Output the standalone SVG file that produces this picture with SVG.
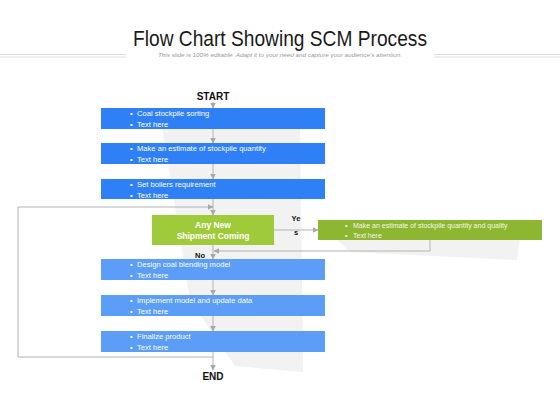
<svg xmlns="http://www.w3.org/2000/svg" width="560" height="420" viewBox="0 0 560 420">
<style>
.title{font-family:"Liberation Sans",Arial,sans-serif;font-size:22px;fill:#1a1a1a}
.sub{font-family:"Liberation Sans",Arial,sans-serif;font-size:6px;font-style:italic;fill:#9a9a9a}
.dl{stroke:#d8d8d8;stroke-width:0.8}
.bt{font-family:"Liberation Sans",Arial,sans-serif;font-size:7.6px;fill:#ffffff}
.gt{font-family:"Liberation Sans",Arial,sans-serif;font-size:7px;fill:#f4f8e8}
.dt{font-family:"Liberation Sans",Arial,sans-serif;font-size:8.5px;font-weight:bold;fill:#ffffff}
.lab{font-family:"Liberation Sans",Arial,sans-serif;font-size:10px;font-weight:bold;fill:#111}
.sl{font-family:"Liberation Sans",Arial,sans-serif;font-size:7.5px;font-weight:bold;fill:#111}
.c{fill:none;stroke:#b3b3b3;stroke-width:1}
.dark{fill:#2f80f6}
.light{fill:#5c9df8}
</style>
<defs>
<marker id="ah" viewBox="0 0 10 10" refX="9" refY="5" markerWidth="6" markerHeight="6" orient="auto" markerUnits="userSpaceOnUse">
<path d="M0,0 L10,5 L0,10 z" fill="#a8a8a8"/>
</marker>
</defs>
<rect width="560" height="420" fill="#ffffff"/>
<g id="header">
<text class="title" x="280" y="46" text-anchor="middle" textLength="294" lengthAdjust="spacingAndGlyphs">Flow Chart Showing SCM Process</text>
<text class="sub" x="280" y="57" text-anchor="middle" textLength="244" lengthAdjust="spacingAndGlyphs">This slide is 100% editable. Adapt it to your need and capture your audience's attention.</text>
<line class="dl" x1="0" y1="54.5" x2="126" y2="54.5"/>
<line class="dl" x1="0" y1="57" x2="126" y2="57"/>
<line class="dl" x1="434" y1="54.5" x2="560" y2="54.5"/>
<line class="dl" x1="434" y1="57" x2="560" y2="57"/>
</g>
<g id="shadows" fill="#f2f2f2">
<polygon points="160,114 300,114 303,372 235,366 190,300"/>
<polygon points="335,238 520,238 517,260 350,252"/>
</g>
<g id="connectors">
<line class="c" x1="213" y1="102" x2="213" y2="108" marker-end="url(#ah)"/>
<line class="c" x1="213" y1="129" x2="213" y2="143" marker-end="url(#ah)"/>
<line class="c" x1="213" y1="164" x2="213" y2="179" marker-end="url(#ah)"/>
<line class="c" x1="213" y1="199" x2="213" y2="215" marker-end="url(#ah)"/>
<polyline class="c" points="213,357 18,357 18,207 213,207" marker-end="url(#ah)"/>
<line class="c" x1="274" y1="230" x2="318" y2="230" marker-end="url(#ah)"/>
<polyline class="c" points="430,240 430,251 214,251" marker-end="url(#ah)"/>
<line class="c" x1="213" y1="245" x2="213" y2="259" marker-end="url(#ah)"/>
<line class="c" x1="213" y1="280" x2="213" y2="295" marker-end="url(#ah)"/>
<line class="c" x1="213" y1="316" x2="213" y2="331" marker-end="url(#ah)"/>
<line class="c" x1="213" y1="352" x2="213" y2="370" marker-end="url(#ah)"/>
<text class="sl" x="296" y="221" text-anchor="middle">Ye</text>
<text class="sl" x="296" y="235" text-anchor="middle">s</text>
<text class="sl" x="200" y="258" text-anchor="middle">No</text>
</g>
<g id="start"><text class="lab" x="213" y="100" text-anchor="middle">START</text></g>
<g id="n1"><rect class="dark" x="101" y="108" width="224" height="21"/>
<text class="bt" x="130" y="116">•</text><text class="bt" x="137" y="116">Coal stockpile sorting</text>
<text class="bt" x="130" y="126.5">•</text><text class="bt" x="137" y="126.5">Text here</text></g>
<g id="n2"><rect class="dark" x="101" y="143" width="224" height="21"/>
<text class="bt" x="130" y="151">•</text><text class="bt" x="137" y="151">Make an estimate of stockpile quantity</text>
<text class="bt" x="130" y="161.5">•</text><text class="bt" x="137" y="161.5">Text here</text></g>
<g id="n3"><rect class="dark" x="101" y="179" width="224" height="20"/>
<text class="bt" x="130" y="187">•</text><text class="bt" x="137" y="187">Set boilers requirement</text>
<text class="bt" x="130" y="197.5">•</text><text class="bt" x="137" y="197.5">Text here</text></g>
<g id="decision"><rect x="152" y="215" width="122" height="30" fill="#9fcb3b"/>
<text class="dt" x="213" y="228" text-anchor="middle">Any  New</text>
<text class="dt" x="213" y="239" text-anchor="middle">Shipment Coming</text></g>
<g id="yesbox"><rect x="318" y="220" width="224" height="20" fill="#8db731"/>
<text class="gt" x="345" y="228">•</text><text class="gt" x="353" y="228">Make an estimate of stockpile quantity and quality</text>
<text class="gt" x="345" y="237.5">•</text><text class="gt" x="353" y="237.5">Text here</text></g>
<g id="n4"><rect class="light" x="101" y="259" width="224" height="21"/>
<text class="bt" x="130" y="267">•</text><text class="bt" x="137" y="267">Design coal blending model</text>
<text class="bt" x="130" y="277.5">•</text><text class="bt" x="137" y="277.5">Text here</text></g>
<g id="n5"><rect class="light" x="101" y="295" width="224" height="21"/>
<text class="bt" x="130" y="303">•</text><text class="bt" x="137" y="303">Implement model and update data</text>
<text class="bt" x="130" y="313.5">•</text><text class="bt" x="137" y="313.5">Text here</text></g>
<g id="n6"><rect class="light" x="101" y="331" width="224" height="21"/>
<text class="bt" x="130" y="339">•</text><text class="bt" x="137" y="339">Finalize product</text>
<text class="bt" x="130" y="349.5">•</text><text class="bt" x="137" y="349.5">Text here</text></g>
<g id="end"><text class="lab" x="213" y="380" text-anchor="middle">END</text></g>
</svg>
